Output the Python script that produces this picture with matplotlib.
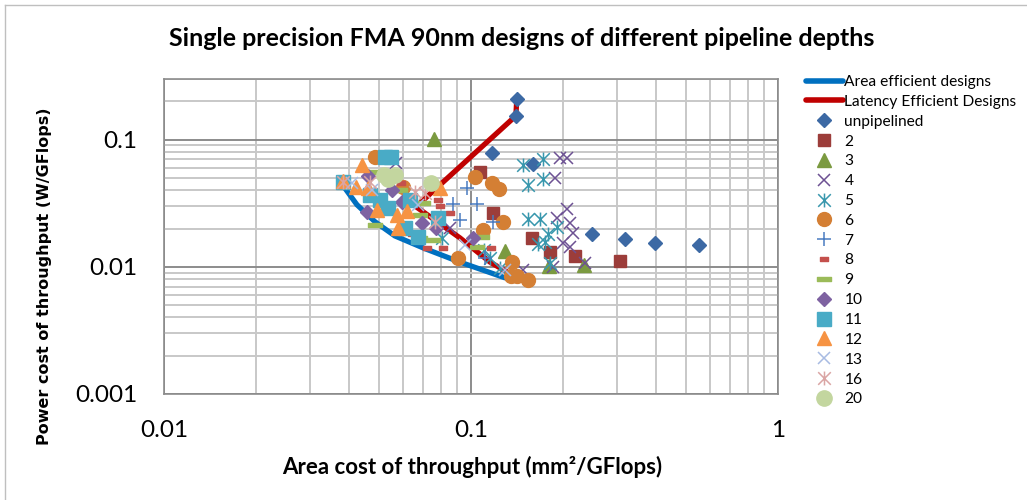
import matplotlib
matplotlib.use("Agg")
import matplotlib.pyplot as plt
from matplotlib.lines import Line2D
from matplotlib.path import Path
from matplotlib.ticker import LogLocator, FixedLocator, FixedFormatter, NullFormatter

plt.rcParams['font.family'] = ['Lato', 'DejaVu Sans']

# ---------------- data ----------------
area_eff_x = [0.0377, 0.0425, 0.0487, 0.0565, 0.0708, 0.092, 0.129]
area_eff_y = [0.0459, 0.0308, 0.0226, 0.0175, 0.0139, 0.0109, 0.0082]

lat_eff_x = [0.141, 0.140, 0.0662, 0.092, 0.1153, 0.1466]
lat_eff_y = [0.210, 0.154, 0.0297, 0.0169, 0.0109, 0.0078]

unp_x = [0.141, 0.140, 0.117, 0.159, 0.248, 0.317, 0.397, 0.553]
unp_y = [0.210, 0.154, 0.079, 0.0647, 0.0182, 0.0166, 0.0155, 0.0149]

s2_x = [0.107, 0.118, 0.158, 0.181, 0.218, 0.306]
s2_y = [0.056, 0.0266, 0.0169, 0.0131, 0.0122, 0.0112]

s3_x = [0.0758, 0.129, 0.1795, 0.2335]
s3_y = [0.1018, 0.0134, 0.0102, 0.0104]

s4_x = [0.0570, 0.1949, 0.2054, 0.1877, 0.2055, 0.1905, 0.2101, 0.2150, 0.1994, 0.2101, 0.185, 0.235, 0.1477, 0.0855]
s4_y = [0.0659, 0.0722, 0.0722, 0.0502, 0.0286, 0.0243, 0.0222, 0.0185, 0.01545, 0.01437, 0.0100, 0.01075, 0.00947, 0.0203]

s5_x = [0.1477, 0.171, 0.153, 0.171, 0.153, 0.1678, 0.1742, 0.165, 0.178, 0.1905, 0.1808, 0.1243, 0.0805, 0.1103, 0.1153]
s5_y = [0.0636, 0.0709, 0.0442, 0.0493, 0.0239, 0.0239, 0.01573, 0.0152, 0.0182, 0.0207, 0.01075, 0.0098, 0.0169, 0.0136, 0.01178]

s6_x = [0.0487, 0.060, 0.103, 0.117, 0.1233, 0.1272, 0.1094, 0.0907, 0.136, 0.135, 0.141, 0.1537]
s6_y = [0.0735, 0.0427, 0.0511, 0.0459, 0.0411, 0.0226, 0.0196, 0.01178, 0.01094, 0.00849, 0.00849, 0.0079]

s7_x = [0.0971, 0.0874, 0.1046, 0.0921, 0.1180, 0.1111]
s7_y = [0.0419, 0.0313, 0.0313, 0.0234, 0.0226, 0.01178]

s8_x = [0.0593, 0.0781, 0.0793, 0.0855, 0.0719, 0.081, 0.1162, 0.0643]
s8_y = [0.0459, 0.0337, 0.0302, 0.0266, 0.0141, 0.0141, 0.0141, 0.0182]

s9_x = [0.0479, 0.0587, 0.0698, 0.0682, 0.0752, 0.0487, 0.0682, 0.109, 0.1046]
s9_y = [0.056, 0.0404, 0.0319, 0.0257, 0.0163, 0.0214, 0.0169, 0.0172, 0.01437]

s10_x = [0.0463, 0.0553, 0.0598, 0.0459, 0.0692, 0.0770, 0.1015]
s10_y = [0.0521, 0.0404, 0.0325, 0.0271, 0.0222, 0.0203, 0.0169]

s11_x = [0.0383, 0.0524, 0.0549, 0.0469, 0.0505, 0.0536, 0.0633, 0.061, 0.0672, 0.0781]
s11_y = [0.0467, 0.0735, 0.0735, 0.0369, 0.0337, 0.0291, 0.0337, 0.0203, 0.0172, 0.0243]

s12_x = [0.0442, 0.0383, 0.0422, 0.0463, 0.0793, 0.0494, 0.0574, 0.0620, 0.0578]
s12_y = [0.0636, 0.0476, 0.0427, 0.0419, 0.0419, 0.0281, 0.0257, 0.0276, 0.0203]

s13_x = [0.041, 0.0475, 0.0672, 0.0956, 0.129]
s13_y = [0.046, 0.0404, 0.0308, 0.0149, 0.0095]

s16_x = [0.0383, 0.0469, 0.0657, 0.0708, 0.0764]
s16_y = [0.0467, 0.0467, 0.0390, 0.0382, 0.0226]

s20_x = [0.0519, 0.0565, 0.0536, 0.0741]
s20_y = [0.0530, 0.0530, 0.0493, 0.0459]

x_ticks = [0.01, 0.1, 1]
x_tick_labels = ['0.01', '0.1', '1']
y_ticks = [0.001, 0.01, 0.1]
y_tick_labels = ['0.001', '0.01', '0.1']

# ---------------- custom markers ----------------
star_path = Path([(-0.5, -0.5), (0.5, 0.5), (-0.5, 0.5), (0.5, -0.5), (0, -0.55), (0, 0.55)],
                 [Path.MOVETO, Path.LINETO, Path.MOVETO, Path.LINETO, Path.MOVETO, Path.LINETO])
short_dash = Path([(-0.5, -0.22), (0.5, -0.22), (0.5, 0.22), (-0.5, 0.22), (-0.5, -0.22)],
                  [Path.MOVETO, Path.LINETO, Path.LINETO, Path.LINETO, Path.CLOSEPOLY])
long_dash = Path([(-0.5, -0.15), (0.5, -0.15), (0.5, 0.15), (-0.5, 0.15), (-0.5, -0.15)],
                 [Path.MOVETO, Path.LINETO, Path.LINETO, Path.LINETO, Path.CLOSEPOLY])

series = [
    ('unpipelined', unp_x, unp_y, dict(marker='D', ms=6.8, color='#3C69A4', mec='#3C69A4')),
    ('2', s2_x, s2_y, dict(marker='s', ms=9, color='#9C3D3A', mec='#9C3D3A')),
    ('3', s3_x, s3_y, dict(marker='^', ms=10, color='#7B9A40', mec='#7B9A40')),
    ('4', s4_x, s4_y, dict(marker='x', ms=9, color='#6D5193', mew=1.1)),
    ('5', s5_x, s5_y, dict(marker=star_path, ms=10, color='#3897AD', mfc='none', mew=1.1)),
    ('6', s6_x, s6_y, dict(marker='o', ms=10, color='#D47F34', mec='#D47F34')),
    ('7', s7_x, s7_y, dict(marker='+', ms=10, color='#4A7CC1', mew=1.1)),
    ('8', s8_x, s8_y, dict(marker=short_dash, ms=6, color='#C4504C', mec='#C4504C')),
    ('9', s9_x, s9_y, dict(marker=long_dash, ms=10, color='#9BBB59', mec='#9BBB59')),
    ('10', s10_x, s10_y, dict(marker='D', ms=6.8, color='#7E62A1', mec='#7E62A1')),
    ('11', s11_x, s11_y, dict(marker='s', ms=10, color='#49ABC6', mec='#49ABC6')),
    ('12', s12_x, s12_y, dict(marker='^', ms=10.5, color='#F69343', mec='#F69343')),
    ('13', s13_x, s13_y, dict(marker='x', ms=9, color='#A8BBE2', mew=1.1)),
    ('16', s16_x, s16_y, dict(marker=star_path, ms=10, color='#DAA5A4', mfc='none', mew=1.1)),
    ('20', s20_x, s20_y, dict(marker='o', ms=11, color='#C3D69F', mec='#C3D69F')),
]

# ---------------- figure ----------------
fig = plt.figure(figsize=(10.27, 5.0), dpi=100)
ax = fig.add_axes([164 / 1027, 106 / 500, 614 / 1027, 315 / 500])
ax.set_xscale('log')
ax.set_yscale('log')
ax.set_xlim(0.01, 1)
ax.set_ylim(0.001, 0.3)

ax.xaxis.set_minor_locator(LogLocator(base=10, subs=range(2, 10)))
ax.yaxis.set_minor_locator(LogLocator(base=10, subs=range(2, 10)))
ax.xaxis.set_minor_formatter(NullFormatter())
ax.yaxis.set_minor_formatter(NullFormatter())
ax.grid(which='minor', color='#C8C8C8', lw=1.4, zorder=0)
ax.grid(which='major', color='#8C8C8C', lw=1.4, zorder=0)
ax.set_axisbelow(True)

ax.xaxis.set_major_locator(FixedLocator(x_ticks))
ax.xaxis.set_major_formatter(FixedFormatter(x_tick_labels))
ax.yaxis.set_major_locator(FixedLocator(y_ticks))
ax.yaxis.set_major_formatter(FixedFormatter(y_tick_labels))
ax.tick_params(which='both', length=0)
ax.tick_params(axis='x', which='major', pad=19, labelsize=17.5)
ax.tick_params(axis='y', which='major', pad=19, labelsize=17.5)
for sp in ax.spines.values():
    sp.set_color('#8C8C8C')
    sp.set_linewidth(1.2)

ax.plot(area_eff_x, area_eff_y, color='#0070C0', lw=3.8, solid_capstyle='round', zorder=2)
ax.plot(lat_eff_x, lat_eff_y, color='#C00000', lw=3.8, solid_capstyle='round', zorder=2)

handles = [Line2D([0], [0], color='#0070C0', lw=4, solid_capstyle='round'),
           Line2D([0], [0], color='#C00000', lw=4, solid_capstyle='round')]
labels = ['Area efficient designs', 'Latency Efficient Designs']
for i, (lab, xs, ys, kw) in enumerate(series):
    ax.plot(xs, ys, linestyle='none', zorder=3 + i, clip_on=False, **kw)
    handles.append(Line2D([0], [0], linestyle='none', **kw))
    labels.append(lab)

fig.text(522 / 1027, 1 - 38 / 500, 'Single precision FMA 90nm designs of different pipeline depths',
         fontsize=18, fontweight='bold', ha='center', va='center')
fig.text(472 / 1027, 1 - 467 / 500, 'Area cost of throughput (mm²/GFlops)',
         fontsize=16, fontweight='bold', ha='center', va='center')
fig.text(45 / 1027, 1 - 276 / 500, 'Power cost of throughput (W/GFlops)',
         fontsize=11.5, fontweight='bold', ha='center', va='center', rotation=90,
         family=['DejaVu Sans'])

leg = fig.legend(handles, labels, loc='upper left', bbox_to_anchor=(806 / 1027, 1 - 75 / 500),
                 frameon=False, fontsize=11.2, handlelength=2.35, handletextpad=0.12,
                 labelspacing=0.375, borderpad=0, borderaxespad=0)

fig.add_artist(Line2D([5 / 1027, 5 / 1027], [0, 1 - 5 / 500], color='#BFBFBF', lw=1))
fig.add_artist(Line2D([5 / 1027, 1], [1 - 5 / 500, 1 - 5 / 500], color='#BFBFBF', lw=1))

fig.savefig('out.png', dpi=100)
